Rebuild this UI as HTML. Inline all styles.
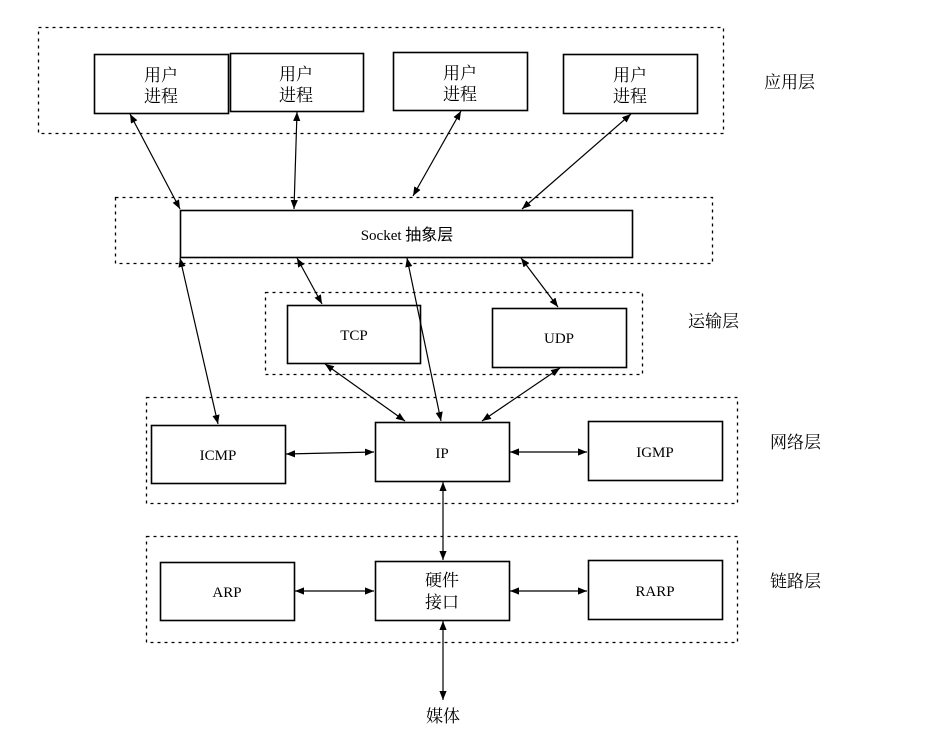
<!DOCTYPE html>
<html><head><meta charset="utf-8"><style>
html,body{margin:0;padding:0;background:#fff;}
svg{display:block;}
text{font-family:"Liberation Serif","Noto Serif CJK SC","Noto Sans CJK SC",serif;fill:#000;}
.cj{font-family:"Liberation Sans","Noto Sans CJK SC",sans-serif;font-size:17px;}
</style></head><body>
<svg width="949" height="754" viewBox="0 0 949 754" xmlns="http://www.w3.org/2000/svg">
<defs>
<marker id="a" viewBox="0 0 10 10" refX="10" refY="5" markerWidth="9" markerHeight="9" markerUnits="userSpaceOnUse" orient="auto-start-reverse"><path d="M0,1 L10,5 L0,9 z" fill="#000"/></marker>
</defs>
<g fill="none" stroke="#000" stroke-width="1.3" stroke-dasharray="3,4">
<rect x="38.5" y="27.5" width="685" height="106"/>
<rect x="115.5" y="197.5" width="597" height="66"/>
<rect x="265.5" y="292.5" width="377" height="82"/>
<rect x="146.5" y="397.5" width="591" height="106"/>
<rect x="146.5" y="536.5" width="591" height="106"/>
</g>
<g fill="#fff" stroke="#000" stroke-width="1.6">
<rect x="94.5" y="54.5" width="134" height="59"/>
<rect x="230.5" y="53.5" width="133" height="58"/>
<rect x="393.5" y="52.5" width="134" height="58"/>
<rect x="563.5" y="54.5" width="134" height="59"/>
<rect x="180.5" y="210.5" width="452" height="47"/>
<rect x="287.5" y="305.5" width="133" height="58"/>
<rect x="492.5" y="308.5" width="134" height="59"/>
<rect x="151.5" y="425.5" width="134" height="58"/>
<rect x="375.5" y="422.5" width="134" height="59"/>
<rect x="588.5" y="421.5" width="134" height="59"/>
<rect x="160.5" y="562.5" width="134" height="58"/>
<rect x="375.5" y="561.5" width="134" height="59"/>
<rect x="588.5" y="560.5" width="134" height="59"/>
</g>
<g stroke="#000" stroke-width="1.2" marker-start="url(#a)" marker-end="url(#a)">
<line x1="130" y1="114" x2="180" y2="209"/>
<line x1="297" y1="112" x2="294" y2="209"/>
<line x1="461" y1="111" x2="413" y2="196"/>
<line x1="631" y1="114" x2="522" y2="209"/>
<line x1="180" y1="258" x2="218" y2="424"/>
<line x1="297" y1="258" x2="322" y2="304"/>
<line x1="407" y1="258" x2="441" y2="421"/>
<line x1="521" y1="258" x2="558" y2="307"/>
<line x1="325" y1="364" x2="405" y2="421"/>
<line x1="560" y1="368" x2="482" y2="421"/>
<line x1="286" y1="454" x2="374" y2="452"/>
<line x1="510" y1="452" x2="587" y2="452"/>
<line x1="443" y1="482" x2="443" y2="560"/>
<line x1="295" y1="591" x2="374" y2="591"/>
<line x1="510" y1="591" x2="587" y2="591"/>
<line x1="443" y1="621" x2="443" y2="700"/>
</g>
<g class="cj" text-anchor="middle">
<text x="161" y="81">用户</text><text x="161" y="102">进程</text>
<text x="296" y="80">用户</text><text x="296" y="101">进程</text>
<text x="460" y="79">用户</text><text x="460" y="100">进程</text>
<text x="630" y="81">用户</text><text x="630" y="102">进程</text>
<text x="442" y="586">硬件</text><text x="442" y="608">接口</text>
<text x="443" y="722">媒体</text>
</g>
<g class="cj">
<text x="764" y="88">应用层</text>
<text x="688" y="327">运输层</text>
<text x="770" y="448">网络层</text>
<text x="770" y="587">链路层</text>
</g>
<g font-size="15" text-anchor="middle">
<text x="407" y="240">Socket <tspan class="cj" style="font-size:16px">抽象层</tspan></text>
<text x="354" y="340">TCP</text>
<text x="559" y="343">UDP</text>
<text x="218" y="460">ICMP</text>
<text x="442" y="458">IP</text>
<text x="655" y="457">IGMP</text>
<text x="227" y="597">ARP</text>
<text x="655" y="596">RARP</text>
</g>
</svg>
</body></html>
